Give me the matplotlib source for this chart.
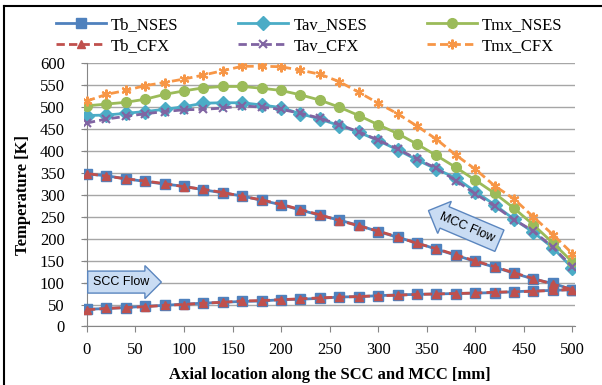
import matplotlib
matplotlib.use("Agg")
import matplotlib.pyplot as plt
from matplotlib.lines import Line2D

# Axial positions [mm]
x_mm = list(range(0, 501, 20))

# Bulk temperature along SCC (inflow, 0 -> 500) and MCC (return, plotted vs same axis)
tb_scc_nses = [39, 41, 43, 46, 48, 51, 53, 55, 57, 58, 61, 62, 64, 67, 68, 70, 72, 73, 74, 75, 76, 77, 79, 81, 82, 84]
tb_mcc_nses = [347, 343, 336, 330, 324, 319, 311, 304, 297, 287, 277, 265, 253, 242, 230, 216, 203, 190, 176, 162, 148, 135, 121, 108, 98, 84]
tb_scc_cfx = [38, 41, 43, 45, 48, 50, 53, 55, 58, 59, 61, 63, 65, 67, 68, 70, 71, 73, 74, 75, 76, 78, 79, 80, 82, 84]
tb_mcc_cfx = [348, 342, 336, 331, 325, 318, 312, 305, 296, 288, 278, 266, 254, 241, 229, 217, 204, 189, 177, 163, 149, 136, 122, 109, 96, 84]

tav_nses = [480, 481, 485, 489, 494, 500, 508, 509, 509, 504, 498, 484, 472, 457, 442, 423, 402, 379, 358, 338, 307, 277, 244, 214, 179, 133]
tav_cfx = [463, 472, 478, 484, 489, 493, 494, 497, 502, 499, 494, 485, 474, 459, 443, 424, 404, 381, 360, 332, 302, 274, 243, 217, 180, 136]
tmx_nses = [502, 506, 510, 517, 528, 536, 543, 546, 546, 542, 537, 527, 515, 499, 480, 459, 439, 415, 389, 362, 333, 303, 269, 231, 190, 147]
tmx_cfx = [513, 528, 537, 548, 555, 563, 572, 582, 592, 592, 591, 583, 574, 557, 533, 508, 484, 456, 426, 390, 358, 320, 290, 249, 209, 166]

x_ticks = list(range(0, 501, 50))
y_ticks = list(range(0, 601, 50))

plt.rcParams['font.family'] = ['Liberation Serif', 'DejaVu Serif']

fig = plt.figure(figsize=(6.02, 3.85), dpi=100)
ax = fig.add_axes([0.1395, 0.152, 0.816, 0.685])

# Tb goes out along the SCC and comes back along the MCC -> one loop per series
x_loop = x_mm + x_mm[::-1]
ms = 7
dash = (0, (3, 1.5))
ax.plot(x_loop, tb_scc_nses + tb_mcc_nses[::-1], color='#4F81BD', lw=2, marker='s', ms=ms,
        label='Tb_NSES', zorder=3)
ax.plot(x_mm, tav_nses, color='#4BACC6', lw=2, marker='D', ms=ms, label='Tav_NSES', zorder=3)
ax.plot(x_mm, tmx_nses, color='#9BBB59', lw=2, marker='o', ms=ms, label='Tmx_NSES', zorder=3)
ax.plot(x_loop, tb_scc_cfx + tb_mcc_cfx[::-1], color='#C0504D', lw=2, ls=dash, marker='^',
        ms=5.5, label='Tb_CFX', zorder=4)
ax.plot(x_mm, tav_cfx, color='#8064A2', lw=2, ls=dash, marker='x', ms=6, mew=1.5,
        label='Tav_CFX', zorder=4)
ax.plot(x_mm, tmx_cfx, color='#F79646', lw=2, ls=dash, marker=(6, 2, 0), ms=7, mew=1.5,
        label='Tmx_CFX', zorder=4)

ax.set_xlim(-3, 503)
ax.set_ylim(0, 600)
ax.set_xticks(x_ticks)
ax.set_yticks(y_ticks)
ax.tick_params(labelsize=12, color='#868686', length=4, width=0.8)
ax.tick_params(axis='y', pad=12)
ax.tick_params(axis='x', pad=7)
ax.yaxis.grid(True, color='#A6A6A6', lw=1)
ax.set_axisbelow(True)
for s in ['top', 'right']:
    ax.spines[s].set_visible(False)
for s in ['left', 'bottom']:
    ax.spines[s].set_color('#868686')
ax.spines['left'].set_position(('data', 0))

ax.set_xlabel('Axial location along the SCC and MCC [mm]', fontsize=12, fontweight='bold', labelpad=7)
ax.set_ylabel('Temperature [K]', fontsize=12, fontweight='bold', labelpad=6)

# flow direction arrows
ax.text(6, 101, 'SCC Flow', fontsize=9, family='Liberation Sans', ha='left', va='center',
        bbox=dict(boxstyle='rarrow,pad=0.4', fc='#C9DCF3', ec='#5B86BF', lw=1))
ax.text(392, 226, 'MCC Flow', fontsize=9, family='Liberation Sans', ha='center', va='center',
        rotation=-23, rotation_mode='anchor',
        bbox=dict(boxstyle='larrow,pad=0.45', fc='#C9DCF3', ec='#5B86BF', lw=1))

# legend: row 1 NSES, row 2 CFX
handles, labels = ax.get_legend_handles_labels()
order = [0, 3, 1, 4, 2, 5]
fig.legend([handles[i] for i in order], [labels[i] for i in order], ncol=3, loc='upper left',
           bbox_to_anchor=(0.068, 0.995), frameon=False, fontsize=12, handlelength=3,
           columnspacing=3.6, handletextpad=0.3, labelspacing=0.3)

# chart frame (left + top only visible)
fig.add_artist(Line2D([0.0068, 0.0068], [0, 0.985], color='black', lw=1.5, transform=fig.transFigure))
fig.add_artist(Line2D([0.0068, 1.0], [0.985, 0.985], color='black', lw=1.5, transform=fig.transFigure))

fig.savefig('out.png', dpi=100)
